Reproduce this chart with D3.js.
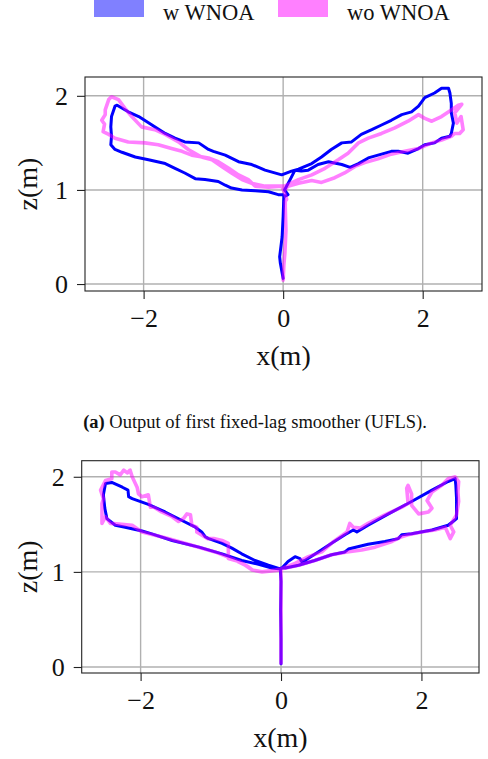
<!DOCTYPE html>
<html>
<head>
<meta charset="utf-8">
<script src="https://cdn.jsdelivr.net/npm/d3@7"></script>
<style>
  html, body { margin: 0; padding: 0; background: #fff; }
  svg { display: block; }
</style>
</head>
<body>
<svg id="chart" width="488" height="759"></svg>
<script>
"use strict"

// series labels and tick values
var seriesLabels = ["w WNOA", "wo WNOA"];
var xTicks = [-2, 0, 2];
var zTicks = [0, 1, 2];
var captionA = ["(a)", " Output of first fixed-lag smoother (UFLS)."];

// (a) UFLS, [x, z] in metres
var blueTop = [
  [0.00,0.06],[-0.04,0.22],[-0.05,0.29],[-0.015,0.50],[0.00,0.72],[0.01,0.93],[0.00,0.95],
  [-0.07,0.95],[-0.21,0.98],[-0.40,0.99],[-0.59,1.00],[-0.74,1.02],[-0.83,1.05],[-0.93,1.09],
  [-1.12,1.11],[-1.26,1.12],[-1.41,1.18],[-1.55,1.23],[-1.69,1.28],[-1.93,1.32],[-2.12,1.35],
  [-2.31,1.40],[-2.41,1.43],[-2.47,1.48],[-2.46,1.57],[-2.47,1.67],[-2.46,1.78],[-2.41,1.89],
  [-2.38,1.90],[-2.22,1.83],[-2.07,1.78],[-1.88,1.69],[-1.69,1.60],[-1.55,1.55],[-1.41,1.51],
  [-1.21,1.50],[-1.07,1.43],[-1.00,1.41],[-0.83,1.37],[-0.64,1.30],[-0.45,1.27],[-0.26,1.21],
  [-0.02,1.16],[0.12,1.20],[0.22,1.22],[0.41,1.28],[0.55,1.35],[0.69,1.43],[0.84,1.50],
  [0.98,1.51],[1.12,1.59],[1.27,1.64],[1.41,1.69],[1.55,1.74],[1.70,1.80],[1.84,1.83],
  [1.94,1.89],[2.03,1.98],[2.17,2.03],[2.27,2.08],[2.37,2.08],[2.39,2.03],[2.41,1.92],
  [2.41,1.82],[2.44,1.71],[2.41,1.60],[2.39,1.57],[2.27,1.55],[2.17,1.50],[2.03,1.48],
  [1.94,1.44],[1.79,1.39],[1.65,1.41],[1.55,1.41],[1.36,1.37],[1.22,1.34],[1.08,1.28],
  [0.96,1.24],[0.84,1.27],[0.65,1.30],[0.50,1.27],[0.36,1.21],[0.26,1.20],[0.17,1.21],
  [0.10,1.11],[0.02,1.00],[0.07,0.95],[0.02,0.93]
];

var pinkTop = [
  [0.00,0.04],[0.01,0.20],[0.025,0.33],[0.04,0.57],[0.03,0.82],[0.03,0.88],[0.05,0.90],[0.02,0.97],
  [-0.02,1.04],[-0.21,1.03],[-0.40,1.04],[-0.50,1.11],[-0.64,1.16],[-0.78,1.23],[-0.93,1.30],
  [-1.07,1.34],[-1.31,1.37],[-1.45,1.41],[-1.60,1.44],[-1.79,1.48],[-1.98,1.50],[-2.22,1.51],
  [-2.41,1.55],[-2.50,1.59],[-2.58,1.62],[-2.56,1.70],[-2.60,1.74],[-2.55,1.80],[-2.55,1.85],
  [-2.50,1.96],[-2.46,1.99],[-2.36,1.96],[-2.27,1.87],[-2.17,1.78],[-2.03,1.67],[-1.84,1.64],
  [-1.69,1.59],[-1.50,1.51],[-1.36,1.43],[-1.17,1.35],[-1.02,1.32],[-0.88,1.25],[-0.74,1.18],
  [-0.59,1.11],[-0.45,1.07],[-0.26,1.04],[-0.07,1.04],[0.02,1.04],[0.22,1.11],[0.41,1.16],
  [0.60,1.23],[0.79,1.32],[0.93,1.39],[1.08,1.50],[1.22,1.55],[1.41,1.60],[1.60,1.66],
  [1.79,1.73],[1.94,1.80],[2.03,1.76],[2.13,1.73],[2.27,1.78],[2.41,1.85],[2.51,1.90],
  [2.56,1.91],[2.46,1.82],[2.49,1.71],[2.55,1.78],[2.58,1.64],[2.53,1.60],[2.46,1.60],
  [2.41,1.57],[2.27,1.53],[2.13,1.50],[1.94,1.44],[1.74,1.41],[1.55,1.38],[1.36,1.33],
  [1.17,1.29],[1.03,1.25],[0.88,1.18],[0.74,1.13],[0.55,1.08],[0.41,1.10],[0.22,1.07],
  [0.07,1.04],[0.02,1.00]
];

// (b) second panel, [x, z] in metres
var blueBottom = [
  [0.00,0.035],[0.00,0.30],[-0.005,0.60],[0.00,0.90],[-0.01,1.03],
  [-0.18,1.07],[-0.37,1.12],[-0.56,1.19],[-0.70,1.25],[-0.84,1.30],[-1.03,1.35],[-1.08,1.37],
  [-1.13,1.42],[-1.22,1.47],[-1.41,1.54],[-1.65,1.63],[-1.89,1.71],[-2.12,1.77],[-2.17,1.79],
  [-2.18,1.86],[-2.26,1.89],[-2.41,1.94],[-2.50,1.93],[-2.53,1.81],[-2.51,1.67],[-2.48,1.56],
  [-2.36,1.49],[-2.22,1.47],[-1.98,1.43],[-1.84,1.40],[-1.55,1.33],[-1.17,1.26],[-0.84,1.19],
  [-0.56,1.12],[-0.32,1.08],[-0.13,1.04],[0.00,1.03],
  [0.10,1.11],[0.20,1.16],[0.27,1.14],[0.29,1.11],[0.34,1.12],[0.53,1.21],[0.72,1.30],
  [0.91,1.39],[1.03,1.44],[1.08,1.42],[1.24,1.49],[1.53,1.61],[1.86,1.74],[2.15,1.86],
  [2.38,1.95],[2.48,1.98],[2.49,1.91],[2.50,1.77],[2.50,1.56],[2.45,1.53],[2.38,1.49],
  [2.15,1.44],[1.86,1.40],[1.72,1.39],[1.67,1.35],[1.48,1.32],[1.24,1.29],[0.96,1.24],
  [0.91,1.21],[0.72,1.18],[0.48,1.12],[0.25,1.07],[0.06,1.04],[0.00,1.04]
];

var pinkBottom = [
  [0.00,0.04],[0.00,0.50],[0.00,1.02],
  [-0.27,1.00],[-0.41,1.02],[-0.46,1.05],[-0.60,1.11],[-0.75,1.14],[-0.75,1.21],[-0.75,1.30],
  [-0.84,1.33],[-0.96,1.35],[-1.05,1.35],[-1.20,1.42],[-1.20,1.47],[-1.27,1.49],[-1.29,1.60],
  [-1.34,1.61],[-1.39,1.56],[-1.46,1.53],[-1.55,1.58],[-1.70,1.63],[-1.81,1.68],[-1.86,1.68],
  [-1.89,1.81],[-1.98,1.79],[-2.03,1.82],[-2.05,1.89],[-2.12,2.00],[-2.15,2.07],[-2.19,2.04],
  [-2.24,2.07],[-2.29,2.02],[-2.36,2.05],[-2.41,2.05],[-2.41,1.98],[-2.50,1.96],[-2.57,1.86],
  [-2.53,1.77],[-2.55,1.72],[-2.55,1.51],[-2.50,1.58],[-2.43,1.51],[-2.27,1.50],[-2.12,1.49],
  [-1.98,1.42],[-1.65,1.36],[-1.32,1.29],[-0.94,1.21],[-0.70,1.14],[-0.51,1.07],[-0.41,1.02],
  [-0.27,1.00],[-0.08,1.02],[0.00,1.03],
  [0.20,1.09],[0.39,1.16],[0.58,1.21],[0.75,1.32],[0.94,1.42],[0.98,1.51],[1.03,1.47],
  [1.13,1.46],[1.24,1.51],[1.48,1.60],[1.72,1.68],[1.81,1.72],[1.79,1.88],[1.81,1.91],
  [1.86,1.82],[1.86,1.70],[1.96,1.61],[2.10,1.63],[2.15,1.67],[2.08,1.75],[2.15,1.84],
  [2.29,1.91],[2.38,1.98],[2.48,2.00],[2.53,1.95],[2.52,1.84],[2.53,1.74],[2.50,1.60],
  [2.41,1.49],[2.46,1.42],[2.41,1.35],[2.34,1.47],[2.19,1.44],[2.00,1.42],[1.81,1.39],
  [1.72,1.37],[1.58,1.32],[1.34,1.26],[1.15,1.23],[0.94,1.21],[0.72,1.18],[0.48,1.12],
  [0.25,1.07],[0.00,1.03]
];

var BLUE = "#0000ff";
var PINK = "#ff00ff";
var FONT = "'Liberation Serif', 'Times New Roman', serif";

var svg = d3.select("#chart");

// legend
var legendX = [94, 278];
var legendColors = ["#8080ff", "#ff80ff"];
seriesLabels.forEach(function(label, i) {
    svg.append("rect")
        .attr("x", legendX[i]).attr("y", 0)
        .attr("width", 50).attr("height", 17)
        .attr("fill", legendColors[i]);
    svg.append("text")
        .attr("x", legendX[i] + 69).attr("y", 19.5)
        .attr("font-family", FONT).attr("font-size", 22.5)
        .attr("fill", "#111")
        .text(label);
});

function panel(box, xDom, zDom, blue, pink) {

    var x = d3.scaleLinear().domain(xDom).range([box.left, box.right]);
    var y = d3.scaleLinear().domain(zDom).range([box.bottom, box.top]);

    var g = svg.append("g");

    // grid
    g.selectAll(".gx").data(xTicks).enter().append("line")
        .attr("x1", function(d) { return x(d); }).attr("x2", function(d) { return x(d); })
        .attr("y1", box.top).attr("y2", box.bottom)
        .attr("stroke", "#b0b0b0").attr("stroke-width", 1.4);
    g.selectAll(".gz").data(zTicks).enter().append("line")
        .attr("y1", function(d) { return y(d); }).attr("y2", function(d) { return y(d); })
        .attr("x1", box.left).attr("x2", box.right)
        .attr("stroke", "#b0b0b0").attr("stroke-width", 1.4);

    var clipId = "clip" + Math.round(box.top);
    svg.append("clipPath").attr("id", clipId).append("rect")
        .attr("x", box.left).attr("y", box.top)
        .attr("width", box.right - box.left).attr("height", box.bottom - box.top);

    var line = d3.line()
        .x(function(d) { return x(d[0]); })
        .y(function(d) { return y(d[1]); });

    var lines = g.append("g").attr("clip-path", "url(#" + clipId + ")");
    lines.append("path").datum(blue)
        .attr("d", line)
        .attr("fill", "none").attr("stroke", BLUE)
        .attr("stroke-width", 3)
        .attr("stroke-linejoin", "round").attr("stroke-linecap", "round");
    lines.append("path").datum(pink)
        .attr("d", line)
        .attr("fill", "none").attr("stroke", PINK)
        .attr("stroke-opacity", 0.5)
        .attr("stroke-width", 3.6)
        .attr("stroke-linejoin", "round").attr("stroke-linecap", "round");

    // frame
    g.append("rect")
        .attr("x", box.left).attr("y", box.top)
        .attr("width", box.right - box.left).attr("height", box.bottom - box.top)
        .attr("fill", "none").attr("stroke", "#222").attr("stroke-width", 1.1);

    // axes
    var xAxis = g.append("g")
        .attr("transform", "translate(0," + box.bottom + ")")
        .call(d3.axisBottom(x).tickValues(xTicks).tickSize(8).tickPadding(10).tickFormat(d3.format("d")));
    var zAxis = g.append("g")
        .attr("transform", "translate(" + box.left + ",0)")
        .call(d3.axisLeft(y).tickValues(zTicks).tickSize(8).tickPadding(9).tickFormat(d3.format("d")));

    [xAxis, zAxis].forEach(function(a) {
        a.select(".domain").remove();
        a.selectAll(".tick line").attr("stroke", "#222").attr("stroke-width", 1.1);
        a.selectAll(".tick text").attr("font-family", FONT).attr("font-size", 26).attr("fill", "#111");
    });

    // axis labels
    g.append("text")
        .attr("x", (box.left + box.right) / 2).attr("y", box.bottom + 74)
        .attr("text-anchor", "middle")
        .attr("font-family", FONT).attr("font-size", 28).attr("fill", "#111")
        .text("x(m)");
    g.append("text")
        .attr("transform", "translate(37," + ((box.top + box.bottom) / 2) + ") rotate(-90)")
        .attr("text-anchor", "middle")
        .attr("font-family", FONT).attr("font-size", 28).attr("fill", "#111")
        .text("z(m)");
}

panel({left: 85, right: 482, top: 77, bottom: 291}, [-2.84, 2.85], [-0.074, 2.2], blueTop, pinkTop);
panel({left: 81.7, right: 479, top: 460.7, bottom: 673}, [-2.839, 2.82], [-0.063, 2.169], blueBottom, pinkBottom);

// caption
var cap = svg.append("text")
    .attr("x", 255).attr("y", 428)
    .attr("text-anchor", "middle")
    .attr("font-family", FONT).attr("font-size", 18.5).attr("fill", "#111");
cap.append("tspan").attr("font-weight", "bold").text(captionA[0]);
cap.append("tspan").text(captionA[1]);
</script>
</body>
</html>
